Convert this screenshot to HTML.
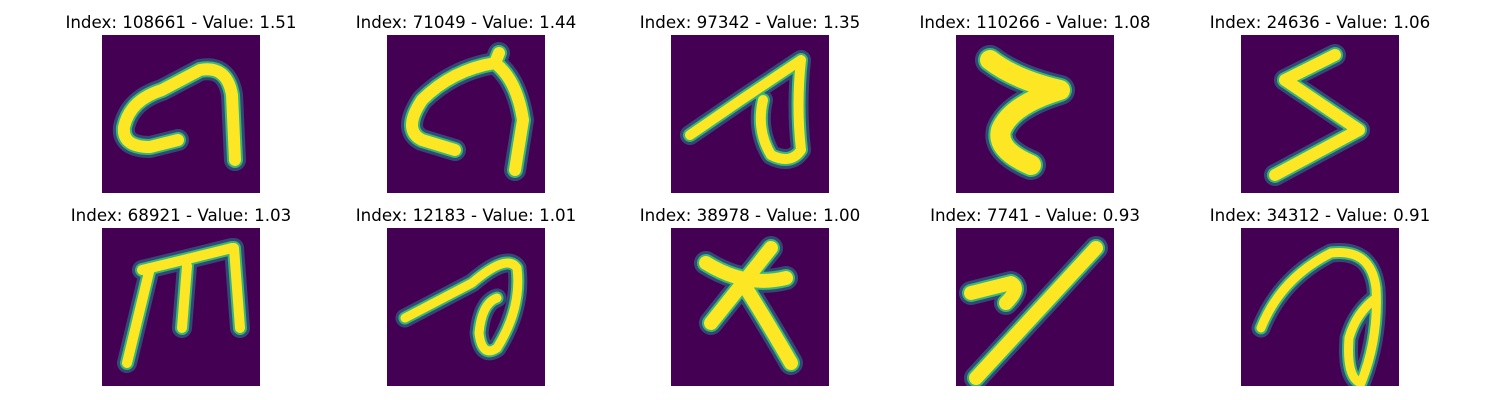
<!DOCTYPE html>
<html><head><meta charset="utf-8"><style>
html,body{margin:0;padding:0;background:#fff;}
#root{position:relative;width:1500px;height:400px;overflow:hidden;font-family:"DejaVu Sans","Liberation Sans",sans-serif;}
.t{position:absolute;width:300px;text-align:center;font-size:16.7px;color:#000;}
svg{position:absolute;}
</style></head><body>
<div id="root"></div>
<script>
const indices=[108661,71049,97342,110266,24636,68921,12183,38978,7741,34312];
const values=["1.51","1.44","1.35","1.08","1.06","1.03","1.01","1.00","0.93","0.91"];
const glyphs=[
"M76,105 L48,112 Q20,112 22,92 Q28,65 60,55 L98,35 Q125,30 130,60 L133,125",
"M68,115 L35,105 Q15,95 35,65 Q65,35 108,28 Q130,45 136,85 L128,135 M108,28 L112,18",
"M19,100 L70,65 L130,25 M130,25 Q125,70 130,115 Q120,130 100,120 Q85,95 92,65",
"M34,25 Q60,45 104,55 Q55,70 45,95 Q40,115 75,130",
"M44,45 L94,20 M44,45 L118,95 L34,140",
"M48,40 L25,135 M40,42 Q90,30 130,20 M85,38 L80,100 M132,20 L138,100",
"M18,90 L85,55 Q120,25 130,40 Q135,80 110,120 Q95,130 92,105 Q95,75 110,70",
"M35,35 Q75,60 115,50 M100,20 Q60,70 40,95 M75,60 Q100,100 120,135",
"M15,65 L55,55 Q65,60 50,75 M20,150 L140,20",
"M20,100 Q40,50 90,25 Q130,20 135,60 Q138,110 120,155 Q105,150 108,110 Q115,85 135,70"
];
const widths=[12,12,10,20,12,10,9,14,14,9];
const colX=[102,387,671,956,1241], rowY=[35,228], S=158;
const root=document.getElementById('root');
for(let i=0;i<indices.length;i++){
  const x=colX[i%5], y=rowY[Math.floor(i/5)];
  const t=document.createElement('div');
  t.className='t';
  
  
  t.style.left=(x+S/2-150)+'px'; t.style.top=(y-23)+'px';
  t.textContent='Index: '+indices[i]+' - Value: '+values[i];
  root.appendChild(t);
  const ns='http://www.w3.org/2000/svg';
  const s=document.createElementNS(ns,'svg');
  
  
  s.setAttribute('width',S); s.setAttribute('height',S);
  s.setAttribute('viewBox','0 0 158 158');
  s.style.left=x+'px'; s.style.top=y+'px';
  s.innerHTML='<rect width="158" height="158" fill="#440154"/>'+
   '<path d="'+glyphs[i]+'" fill="none" stroke="#2a788e" stroke-width="'+(widths[i]+10)+'" stroke-linecap="round" stroke-linejoin="round" opacity="0.6"/>'+
   '<path d="'+glyphs[i]+'" fill="none" stroke="#35b779" stroke-width="'+(widths[i]+4)+'" stroke-linecap="round" stroke-linejoin="round"/>'+
   '<path d="'+glyphs[i]+'" fill="none" stroke="#fde725" stroke-width="'+widths[i]+'" stroke-linecap="round" stroke-linejoin="round"/>';
  root.appendChild(s);
}
</script>
</body></html>
